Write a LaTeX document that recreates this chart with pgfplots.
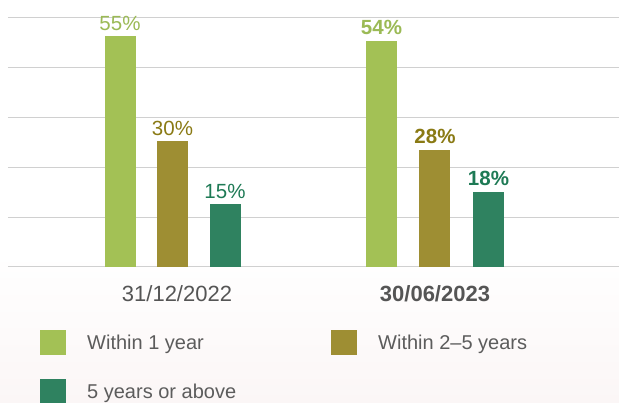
\documentclass[border=0pt]{standalone}
\usepackage{fontspec}
\setmainfont{Liberation Sans}
\usepackage{pgfplots}
\pgfplotsset{compat=1.18}
\definecolor{cA}{HTML}{A3C155}
\definecolor{cB}{HTML}{9E8E33}
\definecolor{cC}{HTML}{2F8260}
\definecolor{tA}{HTML}{9BBA55}
\definecolor{tB}{HTML}{8A7A14}
\definecolor{tC}{HTML}{1E7A55}
\definecolor{txt}{HTML}{555555}
\definecolor{ltxt}{HTML}{5C5C5C}
\definecolor{gridc}{HTML}{D0D0D0}
\definecolor{basec}{HTML}{B8B8B8}
\definecolor{bgp}{HTML}{FBF6F6}
\begin{document}
\begin{tikzpicture}
\useasboundingbox (-8pt,-136pt) rectangle (611pt,267pt);
\fill[white] (-8pt,-136pt) rectangle (611pt,267pt);
\shade[top color=white, bottom color=bgp] (-8pt,-136pt) rectangle (611pt,14pt);
\begin{axis}[
 at={(0pt,0pt)}, anchor=south west,
 scale only axis, width=611pt, height=249pt,
 xmin=-0.6267, xmax=1.701, ymin=0, ymax=59.4,
 axis line style={draw=none},
 ybar, bar width=31pt,
 xtick={0,1}, xticklabels={\hspace*{9pt}31/12/2022,\textbf{30/06/2023}},
 xtick style={draw=none}, ytick style={draw=none},
 ytick={11.875,23.75,35.625,47.5,59.4}, yticklabels={},
 ymajorgrids, major grid style={gridc, line width=1pt},
 extra y ticks={0}, extra y tick labels={},
 extra y tick style={grid style={basec, line width=3pt}},
 /pgf/number format/assume math mode=true,
 xticklabel style={font=\fontsize{22}{26}\selectfont, text=txt, anchor=base, yshift=-30pt},
 nodes near coords={\pgfmathprintnumber{\pgfplotspointmeta}\%},
 every node near coord/.append style={anchor=base, yshift=6pt, font=\fontsize{20.5}{24}\selectfont},
 legend columns=2,
 legend cell align=left,
 legend style={at={(axis description cs:0.0524,-0.253)}, anchor=north west,
   draw=none, fill=none, inner sep=0pt, font=\fontsize{20}{24}\selectfont, text=ltxt,
   row sep=24pt,
   /tikz/every odd column/.style={column sep=19pt},
   /tikz/every even column/.style={column sep=93pt}},
 legend image code/.code={\path[#1,draw=none] (0pt,-12.5pt) rectangle (26pt,12.5pt);},
]
\addplot[fill=cA, draw=none, bar shift=-52.5pt, nodes near coords style={text=tA}] coordinates {(0,55)};
\addlegendentry{Within 1 year}
\addplot[fill=cB, draw=none, bar shift=0pt, nodes near coords style={text=tB}] coordinates {(0,30)};
\addlegendentry{Within 2--5 years}
\addplot[fill=cC, draw=none, bar shift=52.5pt, nodes near coords style={text=tC}] coordinates {(0,15)};
\addlegendentry{5 years or above}
\addplot[forget plot, fill=cA, draw=none, bar shift=-53.5pt, nodes near coords style={text=tA, font=\fontsize{20.5}{24}\selectfont\bfseries}] coordinates {(1,54)};
\addplot[forget plot, fill=cB, draw=none, bar shift=0pt, nodes near coords style={text=tB, font=\fontsize{20.5}{24}\selectfont\bfseries}] coordinates {(1,28)};
\addplot[forget plot, fill=cC, draw=none, bar shift=53.5pt, nodes near coords style={text=tC, font=\fontsize{20.5}{24}\selectfont\bfseries}] coordinates {(1,18)};
\end{axis}
\end{tikzpicture}
\end{document}
